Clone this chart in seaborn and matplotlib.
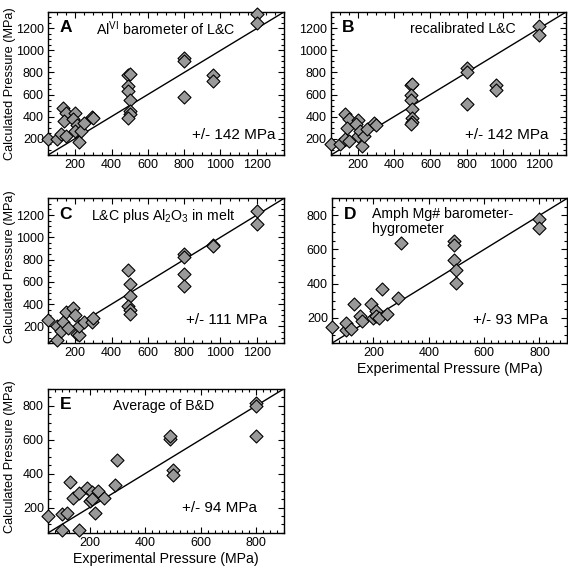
import numpy as np
import pandas as pd
import matplotlib
matplotlib.use("Agg")
import matplotlib.pyplot as plt
import seaborn as sns
from matplotlib.ticker import MultipleLocator

# --- data (MPa) ---
# A: Al(VI) barometer of L&C
a_exp = [50, 100, 120, 130, 150, 140, 150, 200, 190, 210, 200, 220, 230, 250, 290, 300,
         490, 500, 490, 490, 500, 500, 500, 490, 800, 800, 800, 960, 960, 1200, 1200]
a_calc = [200, 200, 240, 480, 430, 360, 220, 430, 380, 320, 270, 170, 270, 340, 400, 385,
          780, 790, 680, 630, 550, 450, 420, 390, 930, 900, 580, 780, 720, 1330, 1250]

# B: recalibrated L&C
b_exp = [50, 100, 130, 130, 150, 140, 150, 200, 190, 200, 210, 220, 230, 250, 290, 300,
         490, 500, 490, 490, 500, 500, 500, 490, 800, 800, 800, 960, 960, 1200, 1200]
b_calc = [150, 150, 200, 420, 380, 300, 175, 370, 330, 220, 270, 130, 220, 290, 340, 320,
          690, 700, 600, 550, 470, 390, 350, 330, 840, 800, 510, 690, 640, 1220, 1140]

# C: L&C plus Al2O3 in melt
c_exp = [50, 100, 100, 120, 130, 150, 160, 190, 200, 210, 220, 220, 250, 290, 300,
         490, 500, 500, 490, 500, 500, 800, 800, 800, 800, 960, 960, 1200, 1200]
c_calc = [260, 80, 200, 160, 240, 330, 190, 370, 300, 130, 120, 200, 240, 240, 280,
          710, 580, 470, 380, 350, 310, 850, 820, 670, 560, 930, 920, 1240, 1120]

# D: Amph Mg# barometer-hygrometer
d_exp = [50, 100, 100, 120, 130, 150, 160, 190, 200, 210, 210, 220, 230, 250, 290, 300,
         490, 490, 490, 500, 500, 800, 800]
d_calc = [145, 130, 170, 135, 280, 210, 180, 280, 200, 240, 210, 200, 370, 220, 315, 635,
          650, 625, 540, 480, 405, 780, 725]

# E: average of B&D
e_exp = [50, 100, 100, 120, 130, 140, 160, 160, 190, 200, 210, 210, 220, 230, 250, 300, 290,
         490, 490, 500, 500, 800, 800, 800]
e_calc = [150, 65, 160, 170, 350, 255, 285, 65, 315, 240, 290, 250, 165, 300, 255, 480, 330,
          605, 620, 420, 390, 815, 800, 620]

panels = [
    ("A", "Al$^{\\mathrm{VI}}$ barometer of L&C", "+/- 142 MPa", a_exp, a_calc),
    ("B", "recalibrated L&C", "+/- 142 MPa", b_exp, b_calc),
    ("C", "L&C plus Al$_{2}$O$_{3}$ in melt", "+/- 111 MPa", c_exp, c_calc),
    ("D", "Amph Mg# barometer-\nhygrometer", "+/- 93 MPa", d_exp, d_calc),
    ("E", "Average of B&D", "+/- 94 MPa", e_exp, e_calc),
]

sns.set_style("ticks")
plt.rcParams["font.family"] = ["Liberation Sans", "DejaVu Sans"]
plt.rcParams["mathtext.fontset"] = "custom"
plt.rcParams["mathtext.rm"] = "Liberation Sans"
plt.rcParams["mathtext.it"] = "Liberation Sans:italic"
plt.rcParams["mathtext.bf"] = "Liberation Sans:bold"
for key in ["text.color", "axes.labelcolor", "xtick.color", "ytick.color", "axes.edgecolor"]:
    plt.rcParams[key] = "black"

fig = plt.figure(figsize=(5.68, 5.70), dpi=100)

# axes boxes [left, bottom, width, height] in figure fraction
boxes = [
    [0.0845, 0.728, 0.4155, 0.251],
    [0.5827, 0.728, 0.4140, 0.251],
    [0.0845, 0.398, 0.4155, 0.254],
    [0.5845, 0.398, 0.4140, 0.254],
    [0.0845, 0.065, 0.4155, 0.253],
]

# text positions (axes fraction)
title_x = [0.50, 0.56, 0.49, 0.17, 0.49]
title_y = [0.88, 0.88, 0.88, 0.84, 0.88]
title_ha = ["center", "center", "center", "left", "center"]
err_x = [0.785, 0.748, 0.757, 0.757, 0.728]
err_y = [0.14, 0.14, 0.16, 0.16, 0.17]
ylab_y = {"A": 0.50, "C": 0.53, "E": 0.53}

for i, (letter, title, err, xs, ys) in enumerate(panels):
    ax = fig.add_axes(boxes[i])
    df = pd.DataFrame({"exp": xs, "calc": ys})
    big = letter in "ABC"
    lo, hi = (50, 1350) if big else (50, 900)

    ax.axline((0, 0), slope=1, color="black", lw=1.0, zorder=1)
    sns.scatterplot(data=df, x="exp", y="calc", ax=ax, marker="D", s=44,
                    color="#999999", edgecolor="black", linewidth=0.8,
                    clip_on=False, zorder=3)

    ax.set_xlim(lo, hi)
    ax.set_ylim(lo, hi)
    ax.xaxis.set_major_locator(MultipleLocator(200))
    ax.yaxis.set_major_locator(MultipleLocator(200))
    ax.xaxis.set_minor_locator(MultipleLocator(50 if big else 25))
    ax.yaxis.set_minor_locator(MultipleLocator(50))
    ax.tick_params(which="both", direction="in", top=True, right=True,
                   labelsize=9, width=0.8, pad=3)
    ax.tick_params(which="major", length=4.5)
    ax.tick_params(which="minor", length=2.5)
    for sp in ax.spines.values():
        sp.set_linewidth(1.0)

    ax.set_xlabel("Experimental Pressure (MPa)" if letter in "DE" else "",
                  fontsize=10.2, labelpad=2)
    if letter in ylab_y:
        ax.set_ylabel("Calculated Pressure (MPa)", fontsize=9.2)
        ax.yaxis.set_label_coords(-0.135, ylab_y[letter])
    else:
        ax.set_ylabel("")

    ax.text(0.075, 0.89, letter, transform=ax.transAxes, fontsize=12.5,
            fontweight="bold", ha="center", va="center")
    ax.text(title_x[i], title_y[i], title, transform=ax.transAxes, fontsize=10.2,
            ha=title_ha[i], va="center", linespacing=1.1)
    ax.text(err_x[i], err_y[i], err, transform=ax.transAxes, fontsize=11,
            ha="center", va="center")

fig.savefig("out.png", dpi=100)
